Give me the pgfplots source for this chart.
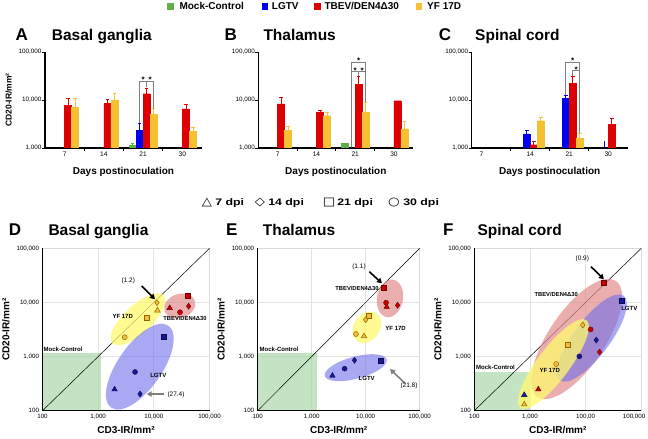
\documentclass[border=0pt]{standalone}
\usepackage{fontspec}
\setmainfont{Liberation Sans}
\newfontfamily\symfont{DejaVu Sans}
\usepackage{pgfplots}
\pgfplotsset{compat=1.18}
\usetikzlibrary{arrows.meta}

\definecolor{cgreen}{RGB}{95,175,75}
\definecolor{cblue}{RGB}{0,0,240}
\definecolor{cred}{RGB}{220,0,0}
\definecolor{cyellow}{RGB}{245,192,50}
\definecolor{mblue}{RGB}{25,25,150}
\definecolor{mbedge}{RGB}{10,10,80}
\definecolor{mred}{RGB}{205,0,0}
\definecolor{medge}{RGB}{100,0,0}
\definecolor{myel}{RGB}{240,190,60}
\definecolor{myeledge}{RGB}{150,100,0}
\definecolor{eyel}{RGB}{255,250,110}
\definecolor{ered}{RGB}{225,140,140}
\definecolor{eblue}{RGB}{110,110,235}
\definecolor{egreen}{RGB}{170,215,170}

\pgfplotsset{
  mR/.style={only marks, mark options={fill=mred, draw=medge, line width=0.4pt}},
  mB/.style={only marks, mark options={fill=mblue, draw=mbedge, line width=0.4pt}},
  mY/.style={only marks, mark options={fill=myel, draw=myeledge, line width=0.5pt}},
  mktri/.style={mark=triangle*, mark size=3.2pt},
  mkdia/.style={mark=diamond*, mark size=3pt},
  mksq/.style={mark=square*, mark size=2.4pt},
  mkcir/.style={mark=*, mark size=2.5pt},
  diagline/.style={black, line width=0.5pt, no marks},
  mockarea/.style={fill=egreen, draw=none, fill opacity=0.7, no marks},
  barplot/.style={ybar, bar width=7pt, fill=#1, draw=#1},
  errline/.style={#1, line width=0.6pt, mark=-, mark size=1.8pt, mark indices={2}, mark options={solid, line width=0.6pt}},
}
\newcommand{\sigstar}[1]{\node[anchor=base, font=\bfseries\fontsize{8}{8}\selectfont, inner sep=0pt, yshift=-4.6pt] at (#1) {*};}

\begin{document}
\begin{tikzpicture}
\path[use as bounding box] (0,0) rectangle (648pt,-439pt);

% ---------- A ----------
\begin{axis}[at={(45pt,-148pt)}, anchor=south west,
    scale only axis, width=157pt, height=96pt,
    ymode=log, ymin=1000, ymax=100000, xmin=-0.5, xmax=3.5,
    axis x line*=bottom, axis y line*=left,
    axis line style={line width=1.1pt, black},
    xtick={0,1,2,3}, xticklabels={7,14,21,30},
    minor xtick={0.5,1.5,2.5},
    ytick={1000,10000,100000}, yticklabels={{1,000},{10,000},{100,000}},
    minor ytick={1000,10000,100000},
    tick align=outside, major tick length=0pt, minor tick length=3pt,
    tick style={black, line width=0.8pt},
    yticklabel style={font=\fontsize{6.3}{7}\selectfont},
    xticklabel style={font=\fontsize{6.6}{7}\selectfont},
    xlabel={Days postinoculation},
    xlabel style={font=\bfseries\fontsize{10}{11}\selectfont, yshift=-4pt},
    ylabel={CD20-IR/mm²}, ylabel style={font=\bfseries\fontsize{8.5}{9}\selectfont}]
\addplot[barplot=cgreen, bar shift=-10.5pt] coordinates {(2,1120)};
\addplot[barplot=cblue, bar shift=-3.5pt] coordinates {(2,2370)};
\addplot[barplot=cred, bar shift=3.5pt] coordinates {(0,7750) (1,8400) (2,13500) (3,6500)};
\addplot[barplot=cyellow, bar shift=10.5pt] coordinates {(0,7050) (1,10000) (2,5100) (3,2220)};
\addplot[errline=cgreen, xshift=-10.5pt] coordinates {(2,1120) (2,1250)};
\addplot[errline=cblue, xshift=-3.5pt] coordinates {(2,2370) (2,3270)};
\addplot[errline=cred, xshift=3.5pt] coordinates {(0,7750) (0,10600)};
\addplot[errline=cred, xshift=3.5pt] coordinates {(1,8400) (1,10300)};
\addplot[errline=cred, xshift=3.5pt] coordinates {(2,13500) (2,17500)};
\addplot[errline=cred, xshift=3.5pt] coordinates {(3,6500) (3,8250)};
\addplot[errline=cyellow, xshift=10.5pt] coordinates {(0,7050) (0,10600)};
\addplot[errline=cyellow, xshift=10.5pt] coordinates {(1,10000) (1,13800)};
\addplot[errline=cyellow, xshift=10.5pt] coordinates {(2,5100) (2,6600)};
\addplot[errline=cyellow, xshift=10.5pt] coordinates {(3,2220) (3,2700)};
\draw[gray, line width=0.7pt] ([xshift=-3.5pt]axis cs:2,3300) -- ([xshift=-3.5pt]axis cs:2,24900) -- ([xshift=10.5pt]axis cs:2,24900) -- ([xshift=10.5pt]axis cs:2,6700);
\draw[gray, line width=0.7pt] ([xshift=3.5pt]axis cs:2,24900) -- ([xshift=3.5pt]axis cs:2,19000);
\sigstar{[xshift=0pt]axis cs:2,29000}
\sigstar{[xshift=7pt]axis cs:2,29000}
\end{axis}

% ---------- B ----------
\begin{axis}[at={(258.3pt,-148pt)}, anchor=south west,
    scale only axis, width=155pt, height=96pt,
    ymode=log, ymin=1000, ymax=100000, xmin=-0.5, xmax=3.5,
    axis x line*=bottom, axis y line*=left,
    axis line style={line width=1.1pt, black},
    xtick={0,1,2,3}, xticklabels={7,14,21,30},
    minor xtick={0.5,1.5,2.5},
    ytick={1000,10000,100000}, yticklabels={{1,000},{10,000},{100,000}},
    minor ytick={1000,10000,100000},
    tick align=outside, major tick length=0pt, minor tick length=3pt,
    tick style={black, line width=0.8pt},
    yticklabel style={font=\fontsize{6.3}{7}\selectfont},
    xticklabel style={font=\fontsize{6.6}{7}\selectfont},
    xlabel={Days postinoculation},
    xlabel style={font=\bfseries\fontsize{10}{11}\selectfont, yshift=-4pt}]
\addplot[barplot=cgreen, bar shift=-10.5pt] coordinates {(2,1230)};
\addplot[barplot=cred, bar shift=3.5pt] coordinates {(0,8260) (1,5530) (2,21400) (3,9660)};
\addplot[barplot=cyellow, bar shift=10.5pt] coordinates {(0,2340) (1,4700) (2,5620) (3,2490)};
\addplot[errline=cblue, xshift=-3.5pt] coordinates {(2,900) (2,1100)};
\addplot[errline=cred, xshift=3.5pt] coordinates {(0,8260) (0,11400)};
\addplot[errline=cred, xshift=3.5pt] coordinates {(1,5530) (1,6100)};
\addplot[errline=cred, xshift=3.5pt] coordinates {(2,21400) (2,31600)};
\addplot[errline=cyellow, xshift=10.5pt] coordinates {(0,2340) (0,2830)};
\addplot[errline=cyellow, xshift=10.5pt] coordinates {(1,4700) (1,5450)};
\addplot[errline=cyellow, xshift=10.5pt] coordinates {(2,5620) (2,8950)};
\addplot[errline=cyellow, xshift=10.5pt] coordinates {(3,2490) (3,3600)};
\draw[gray, line width=0.7pt] ([xshift=-3.5pt]axis cs:2,1050) -- ([xshift=-3.5pt]axis cs:2,61000) -- ([xshift=10.5pt]axis cs:2,61000) -- ([xshift=10.5pt]axis cs:2,9000);
\draw[gray, line width=0.7pt] ([xshift=-3.5pt]axis cs:2,39700) -- ([xshift=10.5pt]axis cs:2,39700);
\draw[gray, line width=0.7pt] ([xshift=3.5pt]axis cs:2,39700) -- ([xshift=3.5pt]axis cs:2,31600);
\sigstar{[xshift=3.5pt]axis cs:2,72800}
\sigstar{[xshift=0pt]axis cs:2,45000}
\sigstar{[xshift=7pt]axis cs:2,45000}
\end{axis}

% ---------- C ----------
\begin{axis}[at={(471.7pt,-148pt)}, anchor=south west,
    scale only axis, width=156pt, height=96pt,
    ymode=log, ymin=1000, ymax=100000, xmin=-0.5, xmax=3.5,
    axis x line*=bottom, axis y line*=left,
    axis line style={line width=1.1pt, black},
    xtick={0,1,2,3}, xticklabels={{\makebox[0pt][r]{7\hspace{8pt}}},14,21,30},
    minor xtick={0.5,1.5,2.5},
    ytick={1000,10000,100000}, yticklabels={{1,000},{10,000},{100,000}},
    minor ytick={1000,10000,100000},
    tick align=outside, major tick length=0pt, minor tick length=3pt,
    tick style={black, line width=0.8pt},
    yticklabel style={font=\fontsize{6.3}{7}\selectfont},
    xticklabel style={font=\fontsize{6.6}{7}\selectfont},
    xlabel={Days postinoculation},
    xlabel style={font=\bfseries\fontsize{10}{11}\selectfont, yshift=-4pt}]
\addplot[barplot=cblue, bar shift=-3.5pt] coordinates {(1,1960) (2,10650)};
\addplot[barplot=cred, bar shift=3.5pt] coordinates {(1,1170) (2,22500) (3,3060)};
\addplot[barplot=cyellow, bar shift=10.5pt] coordinates {(1,3700) (2,1615)};
\addplot[errline=cblue, xshift=-3.5pt] coordinates {(1,1960) (1,2370)};
\addplot[errline=cblue, xshift=-3.5pt] coordinates {(2,10650) (2,12700)};
\addplot[errline=cblue, xshift=-3.5pt] coordinates {(3,900) (3,1380)};
\addplot[errline=cred, xshift=3.5pt] coordinates {(1,1170) (1,1380)};
\addplot[errline=cred, xshift=3.5pt] coordinates {(2,22500) (2,31600)};
\addplot[errline=cred, xshift=3.5pt] coordinates {(3,3060) (3,4150)};
\addplot[errline=cyellow, xshift=10.5pt] coordinates {(1,3700) (1,4360)};
\addplot[errline=cyellow, xshift=10.5pt] coordinates {(2,1615) (2,2030)};
\draw[gray, line width=0.7pt] ([xshift=-3.5pt]axis cs:2,12700) -- ([xshift=-3.5pt]axis cs:2,61000) -- ([xshift=10.5pt]axis cs:2,61000) -- ([xshift=10.5pt]axis cs:2,2030);
\draw[gray, line width=0.7pt] ([xshift=3.5pt]axis cs:2,31600) -- ([xshift=3.5pt]axis cs:2,40700) -- ([xshift=10.5pt]axis cs:2,40700);
\sigstar{[xshift=3.5pt]axis cs:2,72800}
\sigstar{[xshift=7pt]axis cs:2,46400}
\end{axis}

% ---------- D ----------
\begin{axis}[name=D, at={(42.5pt,-410.7pt)}, anchor=south west,
    scale only axis, width=167pt, height=162.4pt,
    xmode=log, ymode=log, xmin=100, xmax=100000, ymin=100, ymax=100000,
    xtick={100,1000,10000,100000}, ytick={100,1000,10000,100000},
    xticklabels={100,{1,000},{10,000},{100,000}},
    yticklabels={100,{1,000},{10,000},{100,000}},
    xminorticks=false, yminorticks=false,
    grid=major, major grid style={draw=gray!22, line width=0.9pt},
    axis line style={draw=gray!30, line width=0.8pt},
    major tick length=0pt,
    ticklabel style={font=\fontsize{6.2}{7}\selectfont},
    xlabel={CD3-IR/mm²}, ylabel={CD20-IR/mm²},
    label style={font=\bfseries\fontsize{10}{12}\selectfont},
    clip=false]
\addplot[mockarea] coordinates {(100,100) (1130,100) (1130,1180) (100,1180)} -- cycle;
\addplot[diagline] coordinates {(100,100) (100000,100000)};
\fill[eyel, opacity=0.75, rotate around={43:(axis cs:5210,4890)}] (axis cs:5210,4890) ellipse [x radius=35pt, y radius=14pt];
\fill[ered, opacity=0.7, rotate around={20:(axis cs:29200,8590)}] (axis cs:29200,8590) ellipse [x radius=16pt, y radius=12pt];
\fill[eblue, opacity=0.6, rotate around={55:(axis cs:5600,650)}] (axis cs:5600,650) ellipse [x radius=50pt, y radius=22pt];
\addplot[mY,mkdia] coordinates {(11400,9900)};
\addplot[mY,mktri] coordinates {(11600,7100)};
\addplot[mY,mksq] coordinates {(7370,5260)};
\addplot[mY,mkcir] coordinates {(3000,2280)};
\addplot[mR,mksq] coordinates {(40000,13500)};
\addplot[mR,mktri] coordinates {(19300,7900)};
\addplot[mR,mkcir] coordinates {(29500,6600)};
\addplot[mR,mkdia] coordinates {(42200,8500)};
\addplot[mB,mksq] coordinates {(15000,2330)};
\addplot[mB,mkcir] coordinates {(4600,520)};
\addplot[mB,mktri] coordinates {(1970,248)};
\addplot[mB,mkdia] coordinates {(5660,204)};
\end{axis}

% ---------- E ----------
\begin{axis}[name=E, at={(257.7pt,-410.7pt)}, anchor=south west,
    scale only axis, width=162pt, height=162.4pt,
    xmode=log, ymode=log, xmin=100, xmax=100000, ymin=100, ymax=100000,
    xtick={100,1000,10000,100000}, ytick={100,1000,10000,100000},
    xticklabels={100,{1,000},{10,000},{100,000}},
    yticklabels={100,{1,000},{10,000},{100,000}},
    xminorticks=false, yminorticks=false,
    grid=major, major grid style={draw=gray!22, line width=0.9pt},
    axis line style={draw=gray!30, line width=0.8pt},
    major tick length=0pt,
    ticklabel style={font=\fontsize{6.2}{7}\selectfont},
    xlabel={CD3-IR/mm²}, ylabel={CD20-IR/mm²},
    label style={font=\bfseries\fontsize{10}{12}\selectfont},
    clip=false]
\addplot[mockarea] coordinates {(100,100) (1270,100) (1270,1180) (100,1180)} -- cycle;
\addplot[diagline] coordinates {(100,100) (100000,100000)};
\fill[ered, opacity=0.7, rotate around={80:(axis cs:28200,11900)}] (axis cs:28200,11900) ellipse [x radius=19pt, y radius=13pt];
\fill[eyel, opacity=0.75, rotate around={55:(axis cs:10500,3470)}] (axis cs:10500,3470) ellipse [x radius=17pt, y radius=13pt];
\fill[eblue, opacity=0.6, rotate around={15:(axis cs:6530,624)}] (axis cs:6530,624) ellipse [x radius=32pt, y radius=11pt];
\addplot[mR,mktri] coordinates {(24500,8300)};
\addplot[mR,mkcir] coordinates {(23800,9900)};
\addplot[mR,mkdia] coordinates {(38900,8850)};
\addplot[mR,mksq] coordinates {(21500,19000)};
\addplot[mY,mksq] coordinates {(11500,5700)};
\addplot[mY,mkdia] coordinates {(10000,4800)};
\addplot[mY,mkcir] coordinates {(6600,2610)};
\addplot[mY,mktri] coordinates {(9300,2370)};
\addplot[mB,mksq] coordinates {(19000,850)};
\addplot[mB,mkdia] coordinates {(6200,853)};
\addplot[mB,mkcir] coordinates {(4070,597)};
\addplot[mB,mktri] coordinates {(2420,444)};
\end{axis}

% ---------- F ----------
\begin{axis}[name=F, at={(474.3pt,-410.7pt)}, anchor=south west,
    scale only axis, width=167pt, height=162.4pt,
    xmode=log, ymode=log, xmin=100, xmax=100000, ymin=100, ymax=100000,
    xtick={100,1000,10000,100000}, ytick={100,1000,10000,100000},
    xticklabels={100,{1,000},{100,00},{\makebox[8pt][r]{100,000}}},
    yticklabels={100,{1,000},{10,000},{100,000}},
    xminorticks=false, yminorticks=false,
    grid=major, major grid style={draw=gray!22, line width=0.9pt},
    axis line style={draw=gray!30, line width=0.8pt},
    major tick length=0pt,
    ticklabel style={font=\fontsize{6.2}{7}\selectfont},
    xlabel={CD3-IR/mm²}, ylabel={CD20-IR/mm²},
    label style={font=\bfseries\fontsize{10}{12}\selectfont},
    clip=false]
\addplot[mockarea] coordinates {(100,100) (1000,100) (1000,525) (100,525)} -- cycle;
\addplot[diagline] coordinates {(100,100) (100000,100000)};
\fill[ered, opacity=0.7, rotate around={56:(axis cs:6900,2110)}] (axis cs:6900,2110) ellipse [x radius=70pt, y radius=28pt];
\fill[eblue, opacity=0.6, rotate around={53:(axis cs:12900,2200)}] (axis cs:12900,2200) ellipse [x radius=53pt, y radius=18pt];
\fill[eyel, opacity=0.75, rotate around={53:(axis cs:2640,727)}] (axis cs:2640,727) ellipse [x radius=55pt, y radius=16pt];
\addplot[mR,mksq] coordinates {(21000,23000)};
\addplot[mB,mksq] coordinates {(44600,10950)};
\addplot[mY,mkdia] coordinates {(8900,3820)};
\addplot[mR,mkcir] coordinates {(12300,3180)};
\addplot[mB,mkdia] coordinates {(15500,2020)};
\addplot[mR,mkdia] coordinates {(17800,1210)};
\addplot[mY,mksq] coordinates {(4760,1630)};
\addplot[mB,mkcir] coordinates {(7700,1010)};
\addplot[mY,mkcir] coordinates {(2960,729)};
\addplot[mR,mktri] coordinates {(1410,248)};
\addplot[mB,mktri] coordinates {(790,195)};
\addplot[mY,mktri] coordinates {(790,131)};
\end{axis}

\foreach \n in {D,E,F}{
  \draw[black, line width=1.3pt] (\n.south west) -- (\n.north west);
  \draw[black, line width=0.8pt] (\n.south west) -- (\n.south east);
}

\begin{scope}[x=1pt, y=-1pt]
% top legend
\fill[cgreen] (166.7,2.5) rectangle (174,9.5);
\node[anchor=base west, font=\bfseries\fontsize{10}{11}\selectfont, inner sep=0pt] at (179.3,9.5) {Mock-Control};
\fill[cblue] (261.7,2.5) rectangle (268.3,9.5);
\node[anchor=base west, font=\bfseries\fontsize{10}{11}\selectfont, inner sep=0pt] at (271.7,9.5) {LGTV};
\fill[cred] (314,2.5) rectangle (320.7,9.5);
\node[anchor=base west, font=\bfseries\fontsize{10}{11}\selectfont, inner sep=0pt] at (324.3,9.5) {TBEV/DEN4Δ30};
\fill[cyellow] (415.7,2.5) rectangle (422,9.5);
\node[anchor=base west, font=\bfseries\fontsize{10}{11}\selectfont, inner sep=0pt] at (427,9.5) {YF 17D};
% titles
\foreach \x/\l in {21.7/A, 230.7/B, 445/C}{\node[anchor=base, font=\bfseries\fontsize{17}{18}\selectfont, inner sep=0pt] at (\x,40) {\l};}
\node[anchor=base west, font=\bfseries\fontsize{15.5}{17}\selectfont, inner sep=0pt] at (51.7,40) {Basal ganglia};
\node[anchor=base west, font=\bfseries\fontsize{15.5}{17}\selectfont, inner sep=0pt] at (263.3,40) {Thalamus};
\node[anchor=base west, font=\bfseries\fontsize{15.5}{17}\selectfont, inner sep=0pt] at (475,40) {Spinal cord};
\foreach \x/\l in {15/D, 231.7/E, 448.3/F}{\node[anchor=base, font=\bfseries\fontsize{17}{18}\selectfont, inner sep=0pt] at (\x,235) {\l};}
\node[anchor=base west, font=\bfseries\fontsize{15.5}{17}\selectfont, inner sep=0pt] at (48.3,235) {Basal ganglia};
\node[anchor=base west, font=\bfseries\fontsize{15.5}{17}\selectfont, inner sep=0pt] at (262.7,235) {Thalamus};
\node[anchor=base west, font=\bfseries\fontsize{15.5}{17}\selectfont, inner sep=0pt] at (477.3,235) {Spinal cord};
% middle legend
\node[anchor=base, font=\symfont\fontsize{11.5}{12}\selectfont, inner sep=0pt, xscale=1.15] at (207,205.8) {△};
\node[anchor=base west, font=\bfseries\fontsize{9.5}{11}\selectfont, inner sep=0pt, xscale=1.3] at (215,205.3) {7 dpi};
\node[anchor=base, font=\symfont\fontsize{11.5}{12}\selectfont, inner sep=0pt, xscale=1.15] at (260,205.8) {◇};
\node[anchor=base west, font=\bfseries\fontsize{9.5}{11}\selectfont, inner sep=0pt, xscale=1.3] at (268,205.3) {14 dpi};
\node[anchor=base, font=\symfont\fontsize{11.5}{12}\selectfont, inner sep=0pt, xscale=1.15] at (329,205.8) {□};
\node[anchor=base west, font=\bfseries\fontsize{9.5}{11}\selectfont, inner sep=0pt, xscale=1.3] at (337,205.3) {21 dpi};
\node[anchor=base, font=\symfont\fontsize{11.5}{12}\selectfont, inner sep=0pt, xscale=1.15] at (394,205.8) {○};
\node[anchor=base west, font=\bfseries\fontsize{9.5}{11}\selectfont, inner sep=0pt, xscale=1.3] at (403,205.3) {30 dpi};
% D annotations
\node[font=\fontsize{6.5}{7}\selectfont] at (128.3,281) {(1.2)};
\draw[-{Triangle[length=5pt,width=5.5pt]}, line width=1.6pt] (141.7,286) -- (155,299.3);
\node[font=\bfseries\fontsize{6}{7}\selectfont] at (122.7,316.7) {YF 17D};
\node[font=\bfseries\fontsize{5.8}{7}\selectfont] at (185,318.3) {TBEV/DEN4Δ30};
\node[font=\bfseries\fontsize{6}{7}\selectfont] at (158.3,375) {LGTV};
\draw[-{Triangle[length=5pt,width=5.5pt]}, line width=1.6pt, gray] (164.3,394) -- (146.7,394);
\node[font=\fontsize{6.5}{7}\selectfont] at (176,395) {(27.4)};
\node[anchor=west, inner sep=0pt, font=\bfseries\fontsize{6}{7}\selectfont] at (43.5,349.3) {Mock-Control};
% E annotations
\node[font=\fontsize{6.5}{7}\selectfont] at (359,266.7) {(1.1)};
\draw[-{Triangle[length=5pt,width=5.5pt]}, line width=1.6pt] (369.3,271.7) -- (382,283.3);
\node[font=\bfseries\fontsize{5.8}{7}\selectfont] at (357,288) {TBEV/DEN4Δ30};
\node[font=\bfseries\fontsize{6}{7}\selectfont] at (395.6,328.3) {YF 17D};
\node[font=\bfseries\fontsize{6}{7}\selectfont] at (366.7,378.3) {LGTV};
\draw[-{Triangle[length=5pt,width=5.5pt]}, line width=1.6pt, gray] (405,383.3) -- (390,369);
\node[font=\fontsize{6.5}{7}\selectfont] at (409,385.7) {(21.8)};
\node[anchor=west, inner sep=0pt, font=\bfseries\fontsize{6}{7}\selectfont] at (259.5,349) {Mock-Control};
% F annotations
\node[font=\fontsize{6.5}{7}\selectfont] at (582.3,259.3) {(0.9)};
\draw[-{Triangle[length=5pt,width=5.5pt]}, line width=1.6pt] (591,266.7) -- (604,279.3);
\node[font=\bfseries\fontsize{5.8}{7}\selectfont] at (556.2,294) {TBEV/DEN4Δ30};
\node[font=\bfseries\fontsize{6}{7}\selectfont] at (629.3,308.7) {LGTV};
\node[font=\bfseries\fontsize{6}{7}\selectfont] at (549.7,370.7) {YF 17D};
\node[anchor=west, inner sep=0pt, font=\bfseries\fontsize{6}{7}\selectfont] at (476,367.3) {Mock-Control};
\end{scope}
\end{tikzpicture}
\end{document}
